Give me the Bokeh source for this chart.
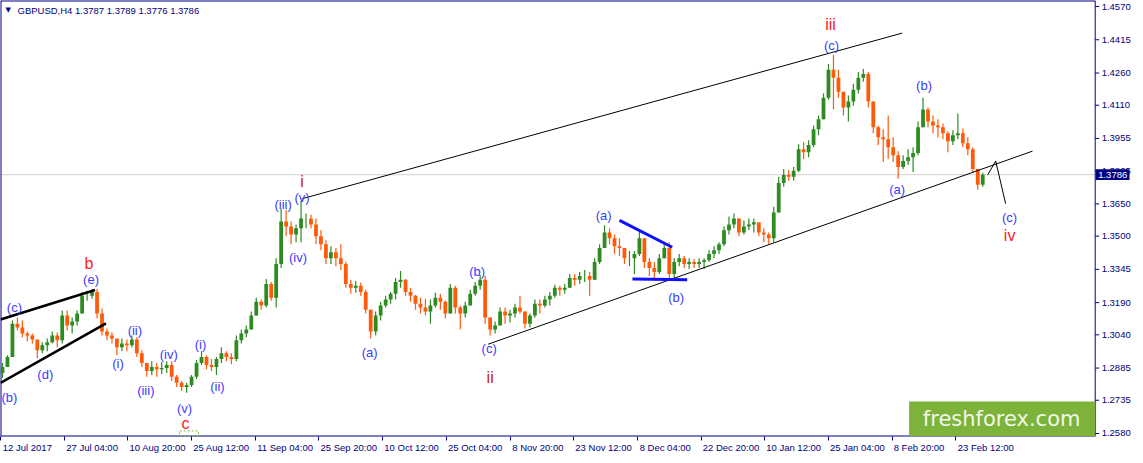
from bokeh.plotting import figure
from bokeh.models import Range1d, FixedTicker, Label, ColumnDataSource
from bokeh.core.properties import value
from bokeh.embed import file_html
from bokeh.resources import INLINE

# ---------------- data (GBPUSD H4, grouped bars) ----------------
first_open = 1.2862
close = [
    1.2890, 1.2936, 1.3092, 1.3074, 1.3046, 1.3037, 1.3018, 1.2968, 1.2991, 1.3005,
    1.3037, 1.3014, 1.3130, 1.3083, 1.3102, 1.3139, 1.3222, 1.3222, 1.3240, 1.3139,
    1.3055, 1.3037, 1.3023, 1.2982, 1.3000, 1.2991, 1.3018, 1.2954, 1.2908, 1.2871,
    1.2890, 1.2880, 1.2885, 1.2899, 1.2844, 1.2816, 1.2797, 1.2806, 1.2844, 1.2908,
    1.2936, 1.2899, 1.2890, 1.2927, 1.2954, 1.2936, 1.2927, 1.3014, 1.3046, 1.3065,
    1.3130, 1.3194, 1.3176, 1.3277, 1.3213, 1.3370, 1.3568, 1.3545, 1.3508, 1.3536,
    1.3582, 1.3582, 1.3554, 1.3499, 1.3462, 1.3397, 1.3425, 1.3397, 1.3370, 1.3277,
    1.3259, 1.3268, 1.3240, 1.3157, 1.3055, 1.3130, 1.3176, 1.3204, 1.3231, 1.3286,
    1.3296, 1.3240, 1.3222, 1.3185, 1.3167, 1.3148, 1.3176, 1.3213, 1.3194, 1.3139,
    1.3259, 1.3167, 1.3139, 1.3176, 1.3231, 1.3268, 1.3296, 1.3121, 1.3065, 1.3083,
    1.3148, 1.3130, 1.3139, 1.3167, 1.3148, 1.3092, 1.3130, 1.3185, 1.3176, 1.3204,
    1.3222, 1.3259, 1.3250, 1.3259, 1.3305, 1.3296, 1.3314, 1.3314, 1.3296, 1.3379,
    1.3444, 1.3517, 1.3490, 1.3453, 1.3444, 1.3397, 1.3397, 1.3416, 1.3490, 1.3379,
    1.3351, 1.3333, 1.3397, 1.3444, 1.3323, 1.3379, 1.3397, 1.3370, 1.3379, 1.3370,
    1.3379, 1.3388, 1.3416, 1.3434, 1.3462, 1.3527, 1.3554, 1.3582, 1.3517, 1.3545,
    1.3554, 1.3564, 1.3517, 1.3508, 1.3490, 1.3610, 1.3748, 1.3785, 1.3776, 1.3804,
    1.3905, 1.3891, 1.3924, 1.3998, 1.4044, 1.4145, 1.4275, 1.4238, 1.4173, 1.4099,
    1.4127, 1.4182, 1.4238, 1.4256, 1.4127, 1.4007, 1.3961, 1.3951, 1.3914, 1.3877,
    1.3822, 1.3850, 1.3868, 1.3887, 1.4007, 1.4090, 1.4034, 1.4016, 1.4007, 1.3979,
    1.3942, 1.3970, 1.3979, 1.3933, 1.3905, 1.3813, 1.3739, 1.3786,
]
high = [
    1.2908, 1.2945, 1.3107, 1.3121, 1.3107, 1.3055, 1.3046, 1.3014, 1.3005, 1.3023,
    1.3055, 1.3051, 1.3153, 1.3153, 1.3121, 1.3153, 1.3240, 1.3245, 1.3254, 1.3254,
    1.3162, 1.3069, 1.3051, 1.3009, 1.3023, 1.3018, 1.3037, 1.3028, 1.2968, 1.2908,
    1.2917, 1.2908, 1.2913, 1.2917, 1.2917, 1.2853, 1.2825, 1.2816, 1.2853, 1.2922,
    1.2963, 1.2945, 1.2927, 1.2936, 1.2982, 1.2963, 1.2954, 1.3037, 1.3065, 1.3083,
    1.3148, 1.3213, 1.3204, 1.3300, 1.3286, 1.3397, 1.3628, 1.3623, 1.3568, 1.3554,
    1.3665, 1.3605, 1.3600, 1.3582, 1.3527, 1.3481, 1.3453, 1.3444, 1.3462, 1.3379,
    1.3296, 1.3291, 1.3282, 1.3250, 1.3157, 1.3148, 1.3194, 1.3222, 1.3240, 1.3305,
    1.3337, 1.3300, 1.3259, 1.3226, 1.3213, 1.3208, 1.3204, 1.3236, 1.3231, 1.3199,
    1.3277, 1.3268, 1.3176, 1.3194, 1.3250, 1.3286, 1.3319, 1.3314, 1.3121, 1.3102,
    1.3167, 1.3167, 1.3157, 1.3185, 1.3222, 1.3148, 1.3139, 1.3204, 1.3204, 1.3222,
    1.3240, 1.3273, 1.3268, 1.3277, 1.3323, 1.3323, 1.3333, 1.3342, 1.3333, 1.3397,
    1.3462, 1.3550, 1.3536, 1.3508, 1.3490, 1.3444, 1.3430, 1.3430, 1.3522, 1.3462,
    1.3397, 1.3379, 1.3416, 1.3462, 1.3471, 1.3397, 1.3416, 1.3407, 1.3397, 1.3393,
    1.3397, 1.3397, 1.3434, 1.3453, 1.3471, 1.3545, 1.3591, 1.3605, 1.3582, 1.3573,
    1.3582, 1.3582, 1.3554, 1.3536, 1.3517, 1.3637, 1.3776, 1.3813, 1.3808, 1.3822,
    1.3928, 1.3938, 1.3947, 1.4016, 1.4062, 1.4164, 1.4302, 1.4344, 1.4275, 1.4173,
    1.4155, 1.4210, 1.4265, 1.4279, 1.4265, 1.4127, 1.4016, 1.3998, 1.4062, 1.3961,
    1.3896, 1.3877, 1.3905, 1.3914, 1.4034, 1.4145, 1.4099, 1.4062, 1.4044, 1.4025,
    1.3988, 1.3993, 1.4071, 1.4002, 1.3961, 1.3914, 1.3813, 1.3795,
]
low = [
    1.2839, 1.2890, 1.2936, 1.3060, 1.3028, 1.3009, 1.3000, 1.2931, 1.2954, 1.2963,
    1.3000, 1.2982, 1.3000, 1.3060, 1.3046, 1.3083, 1.3139, 1.3199, 1.3208, 1.3116,
    1.3037, 1.3014, 1.3000, 1.2945, 1.2963, 1.2963, 1.2982, 1.2936, 1.2890, 1.2844,
    1.2853, 1.2844, 1.2857, 1.2862, 1.2825, 1.2797, 1.2779, 1.2770, 1.2797, 1.2834,
    1.2899, 1.2880, 1.2871, 1.2853, 1.2908, 1.2917, 1.2903, 1.2917, 1.3000, 1.3028,
    1.3065, 1.3130, 1.3157, 1.3167, 1.3199, 1.3167, 1.3351, 1.3499, 1.3462, 1.3471,
    1.3471, 1.3536, 1.3536, 1.3462, 1.3434, 1.3370, 1.3370, 1.3360, 1.3342, 1.3259,
    1.3231, 1.3236, 1.3222, 1.3139, 1.3023, 1.3037, 1.3107, 1.3167, 1.3185, 1.3204,
    1.3259, 1.3222, 1.3194, 1.3157, 1.3139, 1.3130, 1.3092, 1.3167, 1.3157, 1.3116,
    1.3139, 1.3139, 1.3065, 1.3121, 1.3176, 1.3222, 1.3250, 1.3092, 1.3037, 1.3046,
    1.3083, 1.3092, 1.3097, 1.3121, 1.3139, 1.3069, 1.3074, 1.3121, 1.3139, 1.3167,
    1.3176, 1.3213, 1.3222, 1.3231, 1.3259, 1.3268, 1.3277, 1.3286, 1.3222, 1.3296,
    1.3370, 1.3444, 1.3462, 1.3416, 1.3407, 1.3370, 1.3360, 1.3323, 1.3407, 1.3351,
    1.3314, 1.3305, 1.3323, 1.3397, 1.3305, 1.3305, 1.3360, 1.3351, 1.3347, 1.3351,
    1.3351, 1.3347, 1.3379, 1.3397, 1.3416, 1.3453, 1.3508, 1.3536, 1.3499, 1.3508,
    1.3527, 1.3517, 1.3499, 1.3471, 1.3462, 1.3471, 1.3610, 1.3730, 1.3758, 1.3758,
    1.3799, 1.3859, 1.3868, 1.3914, 1.3970, 1.4044, 1.4136, 1.4090, 1.4145, 1.4062,
    1.4034, 1.4108, 1.4164, 1.4219, 1.4099, 1.3979, 1.3924, 1.3845, 1.3859, 1.3845,
    1.3767, 1.3813, 1.3831, 1.3799, 1.3877, 1.4007, 1.4007, 1.3979, 1.3961, 1.3951,
    1.3891, 1.3924, 1.3951, 1.3914, 1.3877, 1.3795, 1.3716, 1.3730,
]
bars_per_group = 5          # each drawn bar groups five H4 bars
bars_per_date_tick = 64     # H4 bars between date labels
visible_bars = 1100         # bars that fit the chart area
date_labels = ["12 Jul 2017", "27 Jul 04:00", "10 Aug 20:00", "25 Aug 12:00",
               "11 Sep 04:00", "25 Sep 20:00", "10 Oct 12:00", "25 Oct 04:00",
               "8 Nov 20:00", "23 Nov 12:00", "8 Dec 04:00", "22 Dec 20:00",
               "10 Jan 12:00", "25 Jan 04:00", "8 Feb 20:00", "23 Feb 12:00"]
price_ticks = [1.4570, 1.4415, 1.4260, 1.4110, 1.3955, 1.3805, 1.3650,
               1.3500, 1.3345, 1.3190, 1.3040, 1.2885, 1.2735, 1.2580]
price_min, price_max = 1.2566, 1.4598
last_price = 1.3786
title_text = "GBPUSD,H4  1.3787 1.3789 1.3776 1.3786"

# Elliott wave labels: (bar index, price, text)
minor_labels = [
    (9, 1.2746, "(b)"), (14, 1.3167, "(c)"), (45, 1.2857, "(d)"), (91, 1.3296, "(e)"),
    (118, 1.2908, "(i)"), (135, 1.3060, "(ii)"), (146, 1.2779, "(iii)"),
    (169, 1.2950, "(iv)"), (185, 1.2696, "(v)"),
    (201, 1.2996, "(i)"), (218, 1.2797, "(ii)"), (284, 1.3647, "(iii)"),
    (299, 1.3402, "(iv)"), (303, 1.3679, "(v)"),
    (371, 1.2959, "(a)"), (479, 1.3337, "(b)"), (491, 1.2977, "(c)"),
    (606, 1.3596, "(a)"), (679, 1.3213, "(b)"), (835, 1.4390, "(c)"),
    (901, 1.3716, "(a)"), (928, 1.4201, "(b)"), (1014, 1.3587, "(c)"),
]
major_labels = [
    (89, 1.3374, "b", "#ff1a1a"), (186, 1.2626, "c", "#ff1a1a"),
    (303, 1.3753, "i", "#c82800"), (492, 1.2839, "ii", "#c82800"),
    (834, 1.4487, "iii", "#ff1a1a"), (1014, 1.3504, "iv", "#ff1a1a"),
]
# trend lines: (bar0, price0, bar1, price1)
wedge_lines = [(0, 1.3111, 95, 1.3249), (0, 1.2816, 106, 1.3093)]
channel_lines = [(303, 1.3674, 906, 1.4446), (490, 1.2996, 1037, 1.3896)]
projection_bars = [992, 1000, 1010]
projection_prices = [1.3785, 1.3850, 1.3651]
triangle_lines = [(622, 1.3573, 675, 1.3448), (635, 1.3300, 690, 1.3296)]

# ---------------- build ----------------
NAVY = "#000080"
UP = "#2e8b22"
DOWN = "#ff5a0a"
FONT = "Liberation Sans"
LABEL_PX = 9.5
SCALE_W = 40.5              # width of the price scale strip, in bar units

opens = [first_open] + close[:-1]
xs = [bars_per_group * i + (bars_per_group - 1) / 2 for i in range(len(close))]
colors = [UP if c >= o else DOWN for o, c in zip(opens, close)]
src = ColumnDataSource(dict(
    x=xs, high=high, low=low,
    top=[max(o, c) for o, c in zip(opens, close)],
    bottom=[min(o, c) for o, c in zip(opens, close)],
    color=colors))

p = figure(width=1135, height=455, output_backend="svg", toolbar_location=None,
           x_range=Range1d(0, visible_bars + SCALE_W),
           y_range=Range1d(price_min, price_max), y_axis_location=None,
           min_border_left=0, min_border_top=0, min_border_right=0, min_border_bottom=0)
p.background_fill_color = "white"
p.border_fill_color = "white"
p.outline_line_color = None
p.xgrid.visible = False
p.ygrid.visible = False

# bottom axis: date texts left-aligned next to each (minor) tick mark
ARIAL_W = {" ": 278, ":": 278, "J": 500, "u": 556, "l": 222, "A": 667, "g": 556,
           "S": 667, "e": 556, "p": 556, "O": 778, "c": 500, "t": 278, "N": 722,
           "o": 556, "v": 500, "D": 722, "F": 611, "b": 556, "a": 556, "n": 556}
def text_px(s):
    return sum(ARIAL_W.get(ch, 556) for ch in s) / 1000.0 * LABEL_PX
tick_bars = [bars_per_date_tick * i for i in range(len(date_labels))]
label_pos = [int(round(tb + 2 + text_px(lbl) / 2)) for tb, lbl in zip(tick_bars, date_labels)]
xa = p.xaxis[0]
xa.ticker = FixedTicker(ticks=label_pos, minor_ticks=tick_bars)
xa.major_label_overrides = {lp: lbl for lp, lbl in zip(label_pos, date_labels)}
xa.axis_line_color = None
xa.major_tick_line_color = None
xa.major_tick_out = 3
xa.major_tick_in = 0
xa.minor_tick_line_color = NAVY
xa.minor_tick_out = 4
xa.minor_tick_in = 0
xa.major_label_standoff = 1
xa.major_label_text_font = FONT
xa.major_label_text_font_size = "%spx" % LABEL_PX
xa.major_label_text_color = NAVY

# chart border
p.line([0, visible_bars], [price_min, price_min], line_color=NAVY, line_width=2)
p.line([0, visible_bars], [price_max, price_max], line_color=NAVY, line_width=2)
p.line([0, 0], [price_min, price_max], line_color=NAVY, line_width=2)
p.line([visible_bars, visible_bars], [price_min, price_max], line_color=NAVY, line_width=1)

# price scale on the right
p.segment(x0=[visible_bars] * len(price_ticks), y0=price_ticks,
          x1=[visible_bars + 4] * len(price_ticks), y1=price_ticks,
          line_color=NAVY, line_width=1)
p.text(x=[visible_bars + 6.5] * len(price_ticks), y=price_ticks,
       text=["%.4f" % t for t in price_ticks], text_color=NAVY,
       text_font=value(FONT), text_font_size="%spx" % LABEL_PX,
       text_align="left", text_baseline="middle")

# current price line and marker box
p.line([0, visible_bars], [last_price, last_price], line_color="#cfcfcf", line_width=1,
       level="underlay")
p.quad(left=visible_bars + 0.5, right=visible_bars + 34.5,
       bottom=last_price - 0.0025, top=last_price + 0.0025,
       fill_color=NAVY, line_color=None)
p.text(x=[visible_bars + 3], y=[last_price], text=["%.4f" % last_price],
       text_color="white", text_font=value(FONT), text_font_size="%spx" % LABEL_PX,
       text_align="left", text_baseline="middle")

# watermark box
p.quad(left=913, right=visible_bars, bottom=price_min, top=1.2729, fill_color="#7db33a",
       line_color=None)
p.text(x=[1006], y=[1.2648], text=["freshforex.com"], text_color="#f2f7ea",
       text_font=value("DejaVu Sans"), text_font_size="21px",
       text_align="center", text_baseline="middle")
p.quad(left=180, right=199, bottom=1.2570, top=1.2592, fill_color=None,
       line_color="#77cc33", line_dash="2 2", line_width=1)

# bars
p.segment(x0="x", y0="low", x1="x", y1="high", color="color", line_width=1.2, source=src)
p.vbar(x="x", width=3.8, top="top", bottom="bottom", fill_color="color",
       line_color=None, source=src)

# trend lines
for x0, y0, x1, y1 in wedge_lines:
    p.line([x0, x1], [y0, y1], line_color="black", line_width=2.5)
for x0, y0, x1, y1 in channel_lines:
    p.line([x0, x1], [y0, y1], line_color="black", line_width=1)
p.line(projection_bars, projection_prices, line_color="black", line_width=1)
for x0, y0, x1, y1 in triangle_lines:
    p.line([x0, x1], [y0, y1], line_color="#1010ff", line_width=3)

# wave labels
p.text(x=[m[0] for m in minor_labels], y=[m[1] for m in minor_labels],
       text=[m[2] for m in minor_labels], text_color="#3a3aff",
       text_font=value(FONT), text_font_size="13px",
       text_align="center", text_baseline="middle")
p.text(x=[m[0] for m in major_labels], y=[m[1] for m in major_labels],
       text=[m[2] for m in major_labels], text_color=[m[3] for m in major_labels],
       text_font=value(FONT), text_font_size="16px",
       text_align="center", text_baseline="middle")

# title
p.add_layout(Label(x=0, y=price_max, x_offset=5, y_offset=-5, text="\u25bc",
                   text_baseline="top", text_font="DejaVu Sans",
                   text_font_size="7px", text_color=NAVY))
p.add_layout(Label(x=0, y=price_max, x_offset=17, y_offset=-4, text=title_text,
                   text_baseline="top", text_font=FONT,
                   text_font_size="%spx" % LABEL_PX, text_color=NAVY))

open("out.html", "w").write(file_html(p, INLINE))
